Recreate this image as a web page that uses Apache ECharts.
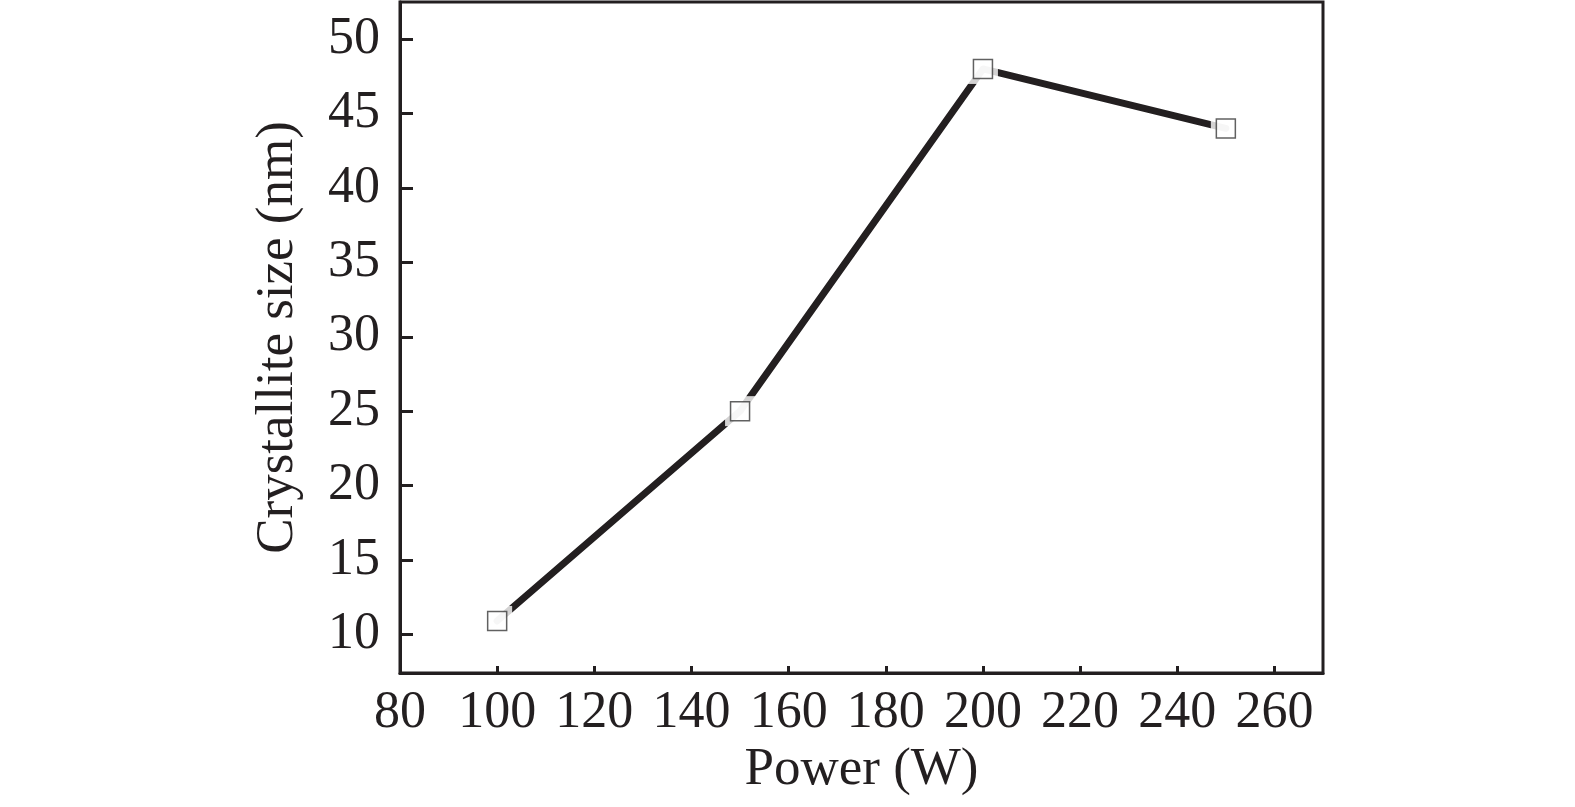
<!DOCTYPE html>
<html>
<head>
<meta charset="utf-8">
<script src="https://cdn.jsdelivr.net/npm/echarts@6/dist/echarts.min.js"></script>
<style>html,body{margin:0;padding:0;background:#fff;}#c{width:1575px;height:807px;}</style>
</head>
<body>
<div id="c"></div>
<script>
var power = [100, 150, 200, 250];
var crystalliteSize = [10.9, 25.0, 48.0, 44.0];
var xTicks = [80, 100, 120, 140, 160, 180, 200, 220, 240, 260];
var yTicks = [10, 15, 20, 25, 30, 35, 40, 45, 50];

var pts = power.map(function (p, i) { return [p, crystalliteSize[i]]; });
var font = 'Liberation Serif';
var ink = '#231f20';

var chart = echarts.init(document.getElementById('c'));
chart.setOption({
  animation: false,
  backgroundColor: '#fff',
  grid: { left: 400, right: 252, top: 2, bottom: 134, show: true, borderColor: ink, borderWidth: 3 },
  xAxis: {
    type: 'value', min: 80, max: 270,
    name: 'Power (W)', nameLocation: 'middle', nameGap: 66,
    nameTextStyle: { fontFamily: font, fontSize: 53, color: ink },
    axisLine: { show: true, lineStyle: { color: ink, width: 3 } },
    axisTick: { show: true, inside: true, length: 7, customValues: xTicks, lineStyle: { color: ink, width: 3 } },
    axisLabel: { customValues: xTicks, margin: 14, fontFamily: font, fontSize: 52, color: ink },
    splitLine: { show: false }
  },
  yAxis: {
    type: 'value', min: 7.4, max: 52.5,
    name: 'Crystallite size (nm)', nameLocation: 'middle', nameGap: 95,
    nameTextStyle: { fontFamily: font, fontSize: 53, color: ink },
    axisLine: { show: true, lineStyle: { color: ink, width: 3 } },
    axisTick: { show: true, inside: true, length: 13, customValues: yTicks, lineStyle: { color: ink, width: 3 } },
    axisLabel: { customValues: yTicks, margin: 20, fontFamily: font, fontSize: 52, color: ink },
    splitLine: { show: false }
  },
  series: [
    {
      type: 'line', data: pts, showSymbol: false, symbol: 'none',
      lineStyle: { color: ink, width: 7, cap: 'round', join: 'round' }, z: 2
    },
    {
      type: 'scatter', data: pts, symbol: 'rect', symbolSize: 30,
      itemStyle: { color: '#fff', borderWidth: 0 }, z: 3, silent: true
    },
    {
      type: 'scatter', data: pts, symbol: 'rect', symbolSize: 19,
      itemStyle: { color: '#fff', borderColor: '#3a3a3a', borderWidth: 1.5 }, z: 4
    }
  ]
});
</script>
</body>
</html>
